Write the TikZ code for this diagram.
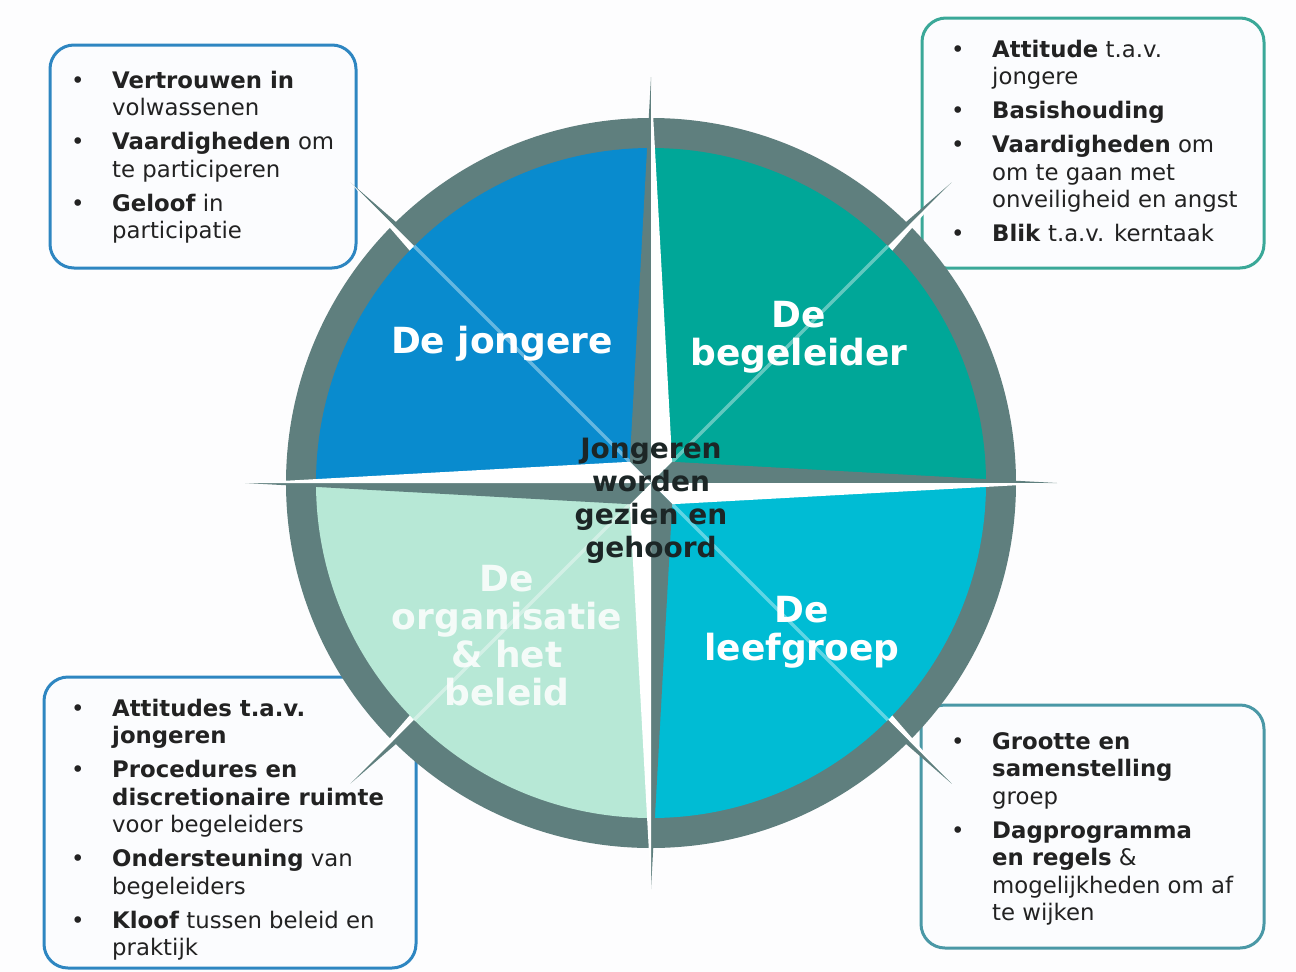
\documentclass[tikz,border=0pt]{standalone}
\usepackage{fontspec}
\setmainfont{DejaVu Sans}
\usetikzlibrary{calc}
\definecolor{bgc}{HTML}{FDFDFE}
\definecolor{boxfill}{HTML}{FBFCFE}
\definecolor{cblue}{HTML}{098BCE}
\definecolor{cteal}{HTML}{00A798}
\definecolor{ccyan}{HTML}{00BCD4}
\definecolor{cmint}{HTML}{B7E8D6}
\definecolor{cring}{HTML}{5F7F7E}
\definecolor{bTL}{HTML}{2E86C1}
\definecolor{bTR}{HTML}{3AA898}
\definecolor{bBL}{HTML}{2E86C1}
\definecolor{bBR}{HTML}{4A98A6}
\definecolor{txtc}{HTML}{222222}
\definecolor{ctrtxt}{HTML}{1C2626}
\newcommand\boxlist[1]{\begin{minipage}[t]{420pt}\fontsize{22.8}{27.5}\selectfont\raggedright\setlength\parskip{6.5pt}#1\end{minipage}}
\newcommand\bul[1]{\par\hangindent=41pt\hangafter=1\noindent\makebox[41pt][l]{•}#1\par}
\begin{document}
\begin{tikzpicture}[x=1pt,y=-1pt,
  infobox/.style={draw, line width=3pt, rounded corners=24pt, fill=boxfill, inner sep=0pt},
  boxtext/.style={anchor=base west, inner sep=0pt, text=txtc},
  qlabel/.style={text=white, align=center, inner sep=0pt, font=\bfseries\fontsize{36}{38}\selectfont},
  ctrlabel/.style={text=ctrtxt, align=center, inner sep=0pt, font=\bfseries\fontsize{28}{33}\selectfont},
  darkhalf/.style={fill=cring},
  lighthalf/.style={fill=white},
  diagline/.style={draw=white, draw opacity=0.38, line width=3.5pt}
]
\useasboundingbox (0,0) rectangle (1296,972);
\fill[bgc] (0,0) rectangle (1296,972);

% boxes
\node[infobox, draw=bTL, minimum width=306pt, minimum height=223pt] (boxTL) at (203,156.5) {};
\node[infobox, draw=bTR, minimum width=342pt, minimum height=250pt] (boxTR) at (1093,143) {};
\node[infobox, draw=bBL, minimum width=372pt, minimum height=291pt] (boxBL) at (230,822.5) {};
\node[infobox, draw=bBR, minimum width=343pt, minimum height=243pt] (boxBR) at (1092.5,826.5) {};

\node[boxtext] (txtTL) at (71,88) {\boxlist{%
\bul{\textbf{Vertrouwen in}\newline volwassenen}
\bul{\textbf{Vaardigheden} om\newline te participeren}
\bul{\textbf{Geloof} in\newline participatie}}};

\node[boxtext] (txtTR) at (951,57) {\boxlist{%
\bul{\textbf{Attitude} t.a.v.\newline jongere}
\bul{\textbf{Basishouding}}
\bul{\textbf{Vaardigheden} om\newline om te gaan met\newline onveiligheid en angst}
\bul{\textbf{Blik} t.a.v. kerntaak}}};

\node[boxtext] (txtBL) at (71,716) {\boxlist{%
\bul{\textbf{Attitudes t.a.v.}\newline\textbf{jongeren}}
\bul{\textbf{Procedures en}\newline\textbf{discretionaire ruimte}\newline voor begeleiders}
\bul{\textbf{Ondersteuning} van\newline begeleiders}
\bul{\textbf{Kloof} tussen beleid en\newline praktijk}}};

\node[boxtext] (txtBR) at (951,749) {\boxlist{%
\bul{\textbf{Grootte en}\newline\textbf{samenstelling}\newline groep}
\bul{\textbf{Dagprogramma}\newline\textbf{en regels} \&\newline mogelijkheden om af\newline te wijken}}};

% compass
\begin{scope}[shift={(651,483)}]
  \fill[cring] (0,0) circle[radius=365];
  % diagonal points (under the sectors)
  \fill[darkhalf]  (0,0) -- (-300.5,-300.5) -- (21,-21) -- cycle;
  \fill[lighthalf] (0,0) -- (-300.5,-300.5) -- (-21,21) -- cycle;
  \fill[darkhalf]  (0,0) -- (300.5,-300.5) -- (-21,-21) -- cycle;
  \fill[lighthalf] (0,0) -- (300.5,-300.5) -- (21,21) -- cycle;
  \fill[lighthalf] (0,0) -- (300.5,300.5) -- (21,-21) -- cycle;
  \fill[darkhalf]  (0,0) -- (300.5,300.5) -- (-21,21) -- cycle;
  \fill[lighthalf] (0,0) -- (-300.5,300.5) -- (-21,-21) -- cycle;
  \fill[darkhalf]  (0,0) -- (-300.5,300.5) -- (21,21) -- cycle;
  % sectors
  \fill[cblue] (0,0) -- (-335,0) arc[start angle=180, end angle=270, radius=335] -- cycle;
  \fill[cteal] (0,0) -- (0,-335) arc[start angle=270, end angle=360, radius=335] -- cycle;
  \fill[ccyan] (0,0) -- (335,0) arc[start angle=0, end angle=90, radius=335] -- cycle;
  \fill[cmint] (0,0) -- (0,335) arc[start angle=90, end angle=180, radius=335] -- cycle;
  % light diagonal lines
  \draw[diagline] (0,0) -- (-236.9,-236.9);
  \draw[diagline] (0,0) -- (236.9,-236.9);
  \draw[diagline] (0,0) -- (236.9,236.9);
  \draw[diagline] (0,0) -- (-236.9,236.9);
  % main points
  \fill[darkhalf]  (0,0) -- (0,-406) -- (-21.2,-21.2) -- cycle;
  \fill[lighthalf] (0,0) -- (0,-406) -- (21.2,-21.2) -- cycle;
  \fill[darkhalf]  (0,0) -- (406,0) -- (21.2,-21.2) -- cycle;
  \fill[lighthalf] (0,0) -- (406,0) -- (21.2,21.2) -- cycle;
  \fill[darkhalf]  (0,0) -- (0,406) -- (21.2,21.2) -- cycle;
  \fill[lighthalf] (0,0) -- (0,406) -- (-21.2,21.2) -- cycle;
  \fill[darkhalf]  (0,0) -- (-406,0) -- (-21.2,21.2) -- cycle;
  \fill[lighthalf] (0,0) -- (-406,0) -- (-21.2,-21.2) -- cycle;
\end{scope}

% labels
\node[qlabel] (qTL) at (502,344) {De jongere};
\node[qlabel] (qTR) at (799,337.5) {De\\begeleider};
\node[qlabel] (qBR) at (802,632.5) {De\\leefgroep};
\node[qlabel, text opacity=0.85] (qBL) at (507,635.5) {De\\organisatie\\\& het\\beleid};
\node[ctrlabel] (ctr) at (651,501) {Jongeren\\worden\\gezien en\\gehoord};
\end{tikzpicture}
\end{document}
